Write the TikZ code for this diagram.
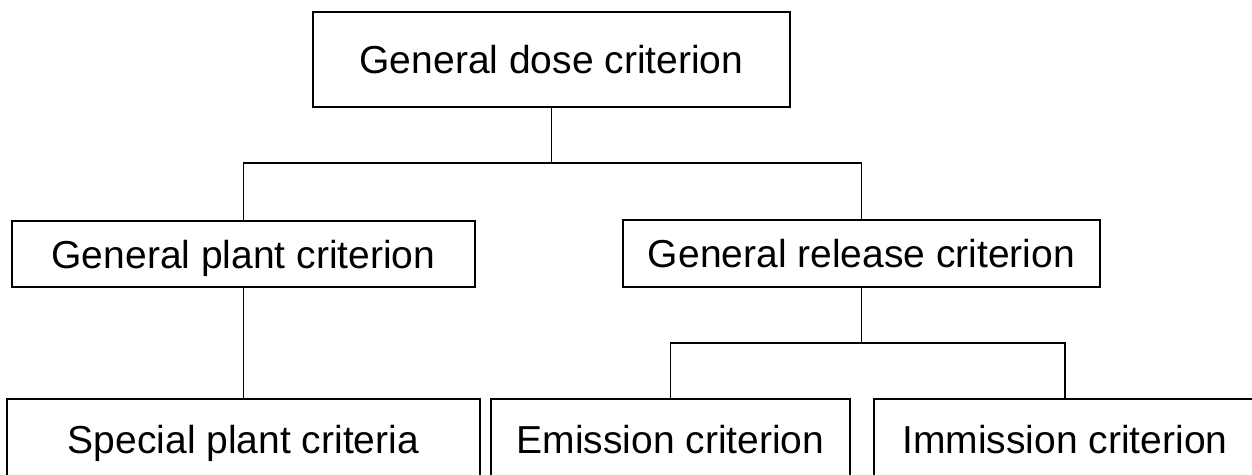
\documentclass[tikz,border=0pt]{standalone}
\usepackage{fontspec}
\setmainfont{Liberation Sans}
\usepackage{tikz}
\usetikzlibrary{positioning}

\tikzset{
  critbox/.style={draw, line width=1.4pt, inner sep=0pt, text height=28pt, text depth=0pt,
    font=\fontsize{39}{47}\selectfont},
  link/.style={line width=1.4pt}
}

\begin{document}
\begin{tikzpicture}[x=1pt,y=-1pt]
\useasboundingbox (0,0) rectangle (1252,474);
\node[critbox, minimum width=477pt, minimum height=95pt] (dose) at (551.5,59.5) {General dose criterion};
\node[critbox, minimum width=463pt, minimum height=66pt] (plant) at (243.5,254) {General plant criterion};
\node[critbox, minimum width=477pt, minimum height=67pt] (release) at (861.5,253.5) {General release criterion};
\node[critbox, minimum width=473pt, minimum height=80pt] (special) at (243.5,439) {Special plant criteria};
\node[critbox, minimum width=359pt, minimum height=80pt] (emission) at (670.5,439) {Emission criterion};
\node[critbox, minimum width=382pt, minimum height=80pt] (immission) at (1065,439) {Immission criterion};
% junctions
\coordinate (top) at (551.5,163);
\coordinate (rel) at (861.5,343);
\draw[link] (dose) -- (top);
\draw[link] (plant.north) |- (top) -| (release.north);
\draw[link] (plant) -- (special);
\draw[link] (release) -- (rel);
\draw[link] (emission.north) |- (rel) -| (immission.north);
\end{tikzpicture}
\end{document}
